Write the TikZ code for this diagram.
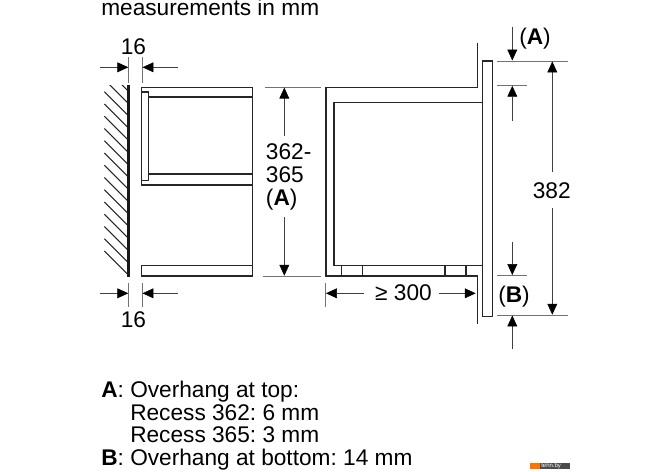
\documentclass[tikz,border=0pt]{standalone}
\usepackage{fontspec}
\setmainfont{Liberation Sans}
\usetikzlibrary{arrows.meta}
\frenchspacing

\tikzset{
  part/.style={line width=.85pt,color=black!85},
  dimline/.style={line width=.45pt,color=black!75},
  dimarrow/.style={dimline,-{Triangle[length=8.2pt,width=7.4pt,color=black]}},
  extline/.style={line width=.45pt,color=black!55},
  label/.style={inner sep=0pt,anchor=base west,font=\fontsize{17}{20}\selectfont},
  labelmid/.style={inner sep=0pt,anchor=base,font=\fontsize{17}{20}\selectfont}
}

\begin{document}
\begin{tikzpicture}[x=.75pt,y=-.75pt]
\useasboundingbox (0,0) rectangle (670,471);

\coordinate (WT) at (128.3,85);
\coordinate (WB) at (128.3,277);

% wall with hatching
\begin{scope}
\clip (104,85) rectangle (128,277);
\foreach \k in {-2,...,13}
  \draw[line width=.85pt,color=black!85] (104.3,91.7+12.25*\k) -- ++(24,24);
\end{scope}
\draw[line width=1.9pt,color=black!90] (WT) -- (WB);

% recess, side view
\draw[part] (141.7,87.3) rectangle (252.7,185);
\draw[part] (252.7,185) -- (252.7,276);
\draw[part] (141.7,92) rectangle (148.7,180.7);
\draw[part] (148.7,97) -- (252.7,97);
\draw[part] (148.7,174) -- (252.7,174);
\draw[part] (141.7,265.7) rectangle (252.7,276);

% appliance, side view
\draw[part] (477.7,43.3) -- (477.7,87.3) -- (326,87.3) -- (326,276) -- (477.7,276) -- (477.7,324);
\draw[part] (482.3,102.7) -- (334,102.7) -- (334,265.3) -- (482.3,265.3);
\draw[part] (482.3,61) rectangle (492.7,316.7);
\draw[part] (341.3,265.3) -- (341.3,276);
\draw[part] (362.3,265.3) -- (362.3,276);
\draw[part] (445,265.3) -- (445,276);
\draw[part] (466,265.3) -- (466,276);

% 16 top
\draw[extline] (128.5,57) -- (128.5,83);
\draw[extline] (142.3,57) -- (142.3,83);
\draw[dimarrow] (100,67.3) -- (128.3,67.3);
\draw[dimarrow] (177.7,67.3) -- (142.5,67.3);
\node[labelmid] (sixteenT) at (133.5,54) {16};

% 16 bottom
\draw[extline] (128.5,283) -- (128.5,306.7);
\draw[extline] (142.3,283) -- (142.3,306.7);
\draw[dimarrow] (100,293.3) -- (128.3,293.3);
\draw[dimarrow] (177.7,293.3) -- (142.5,293.3);
\node[labelmid] (sixteenB) at (133.5,327) {16};

% recess height
\draw[extline] (265,87.3) -- (321,87.3);
\draw[extline] (263,276) -- (321,276);
\draw[dimarrow] (284.3,136) -- (284.3,87.6);
\draw[dimarrow] (284.3,217.3) -- (284.3,275.7);
\node[label] (recessA) at (265.7,159.3) {362-};
\node[label] (recessB) at (265.7,182.3) {365};
\node[label] (recessC) at (265.7,205.3) {(\textbf{A})};

% overhang and height
\draw[extline] (497.3,61) -- (567.7,61);
\draw[extline] (497.3,85.3) -- (526.7,85.3);
\draw[extline] (497.3,275.3) -- (526.7,275.3);
\draw[extline] (497.3,315) -- (568,315);
\draw[dimarrow] (512.3,26.7) -- (512.3,60.5);
\draw[dimarrow] (512.3,120.7) -- (512.3,85.8);
\draw[dimarrow] (512.3,241.7) -- (512.3,275);
\draw[dimarrow] (512.3,348.7) -- (512.3,315.5);
\draw[dimarrow] (552.3,172.3) -- (552.3,61.5);
\draw[dimarrow] (552.3,208) -- (552.3,314.7);
\node[label] (overA) at (519,44.5) {(\textbf{A})};
\node[label] (overB) at (498,302) {(\textbf{B})};
\node[labelmid] (height) at (551.7,198) {382};

% depth
\draw[extline] (325.3,283) -- (325.3,306.7);
\draw[dimarrow] (364,293.3) -- (326,293.3);
\draw[dimarrow] (439,293.3) -- (475.7,293.3);
\node[labelmid] (depth) at (403.5,300.5) {≥ 300};

% texts
\node[label] (title) at (101,16) {measurements in mm};
\node[label] (noteA) at (101,397.3) {\textbf{A}:};
\node[label] (noteAa) at (130,397.3) {Overhang at top:};
\node[label] (noteAb) at (130,420) {Recess 362: 6 mm};
\node[label] (noteAc) at (130,442.7) {Recess 365: 3 mm};
\node[label] (noteB) at (101,465) {\textbf{B}:};
\node[label] (noteBa) at (130,465) {Overhang at bottom: 14 mm};

% watermark
\fill[color=orange!90!red] (530,463) rectangle (540,469);
\fill[color=black!70] (540,463) rectangle (570,469);
\node[inner sep=0pt,anchor=west,color=white,font=\fontsize{4.5}{5}\selectfont] (mark) at (541,466) {tehn.by};
\end{tikzpicture}
\end{document}
